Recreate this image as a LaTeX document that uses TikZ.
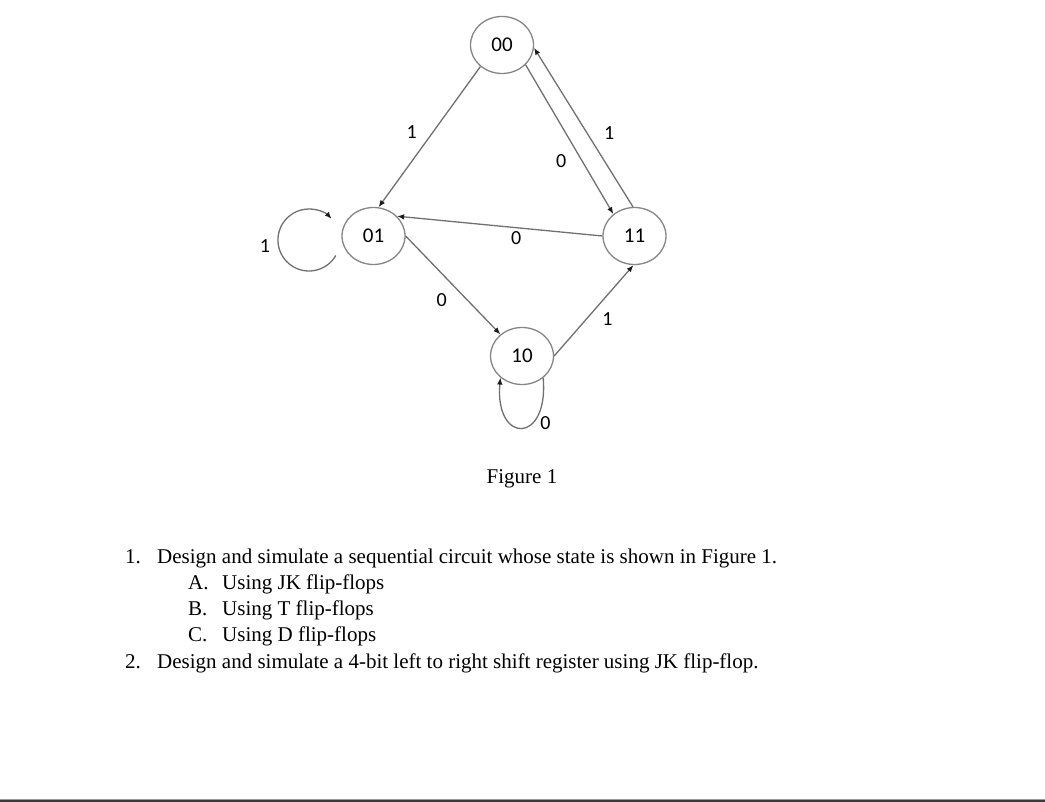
\documentclass[tikz,border=0pt]{standalone}
\usepackage{fontspec}
\setmainfont{Liberation Serif}
\newfontfamily\statefont{Carlito}
\usepackage{xcolor}
\definecolor{cLine}{HTML}{707070}
\definecolor{cEdge}{HTML}{868686}
\definecolor{cTip}{HTML}{1A1A1A}
\definecolor{cRule}{HTML}{3A3A3A}
\definecolor{cRuleLight}{HTML}{9A9A9A}
\usetikzlibrary{positioning,arrows.meta,shapes.geometric}
\tikzset{
  node-state/.style={draw=cEdge,line width=1.3pt,ellipse,inner sep=0pt,
    minimum width=63pt,minimum height=57pt,
    font=\statefont\fontsize{21}{21}\selectfont},
  node-label/.style={inner sep=2pt,font=\statefont\fontsize{20}{20}\selectfont},
  arrow/.style={-{Latex[length=7pt,width=5.5pt,color=cTip]},line width=1.3pt,draw=cLine},
  text-line/.style={anchor=base west,inner sep=0pt,font=\fontsize{21}{26}\selectfont},
}

\begin{document}
\begin{tikzpicture}[x=1pt,y=1pt]
  \useasboundingbox (0,0) rectangle (1045,-802);
  % states
  \node[node-state] (s00) at (502,-45) {00};
  \node[node-state] (s01) at (373.5,-236) {01};
  \node[node-state] (s11) at (634.5,-236) {11};
  \node[node-state] (s10) at (522,-356) {10};
  % transitions
  \draw[arrow] (s00.225) -- node[node-label,pos=.54,above left=1.2pt and 6pt] (e1) {1} (s01.80);
  \draw[arrow] (s00.320) -- node[node-label,pos=.58,below left=0.4pt and 7.5pt] (e2) {0} (s11.134);
  \draw[arrow] (s11.93) -- node[node-label,pos=.4,above right=1.2pt and 8pt] (e3) {1} (s00.355);
  \draw[arrow] (s11.west) -- node[node-label,pos=.42,below=0.7pt] (e4) {0} (s01.40);
  \draw[arrow] (s01.east) -- node[node-label,pos=.52,below left=4pt and 5.5pt] (e5) {0} (s10.135);
  \draw[arrow] (s10.east) -- node[node-label,pos=.52,below right=1.5pt and 4.3pt] (e6) {1} (s11.268);
  % self loops
  \coordinate (l01) at ([shift={(-37.7,-19.5)}]s01.center);
  \draw[arrow] (l01) arc[start angle=-30,end angle=-317,radius=31];
  \node[node-label] (e7) at (265,-246) {1};
  \draw[arrow] (s10.-46) to[out=-85,in=-95,looseness=4]
    node[node-label,pos=.35,right=5.5pt] (e8) {0} (s10.-135);
  % caption
  \node[anchor=base,inner sep=0pt,font=\fontsize{21}{24}\selectfont] (cap) at (522,-483) {Figure 1};
  % questions
  \node[text-line] (q1n) at (125,-563) {1.};
  \node[text-line] (q1) at (157,-563) {Design and simulate a sequential circuit whose state is shown in Figure 1.};
  \foreach \lt/\ff [count=\i] in {A/JK,B/T,C/D} {
    \node[text-line] (sub\i n) at (188,-563-26*\i) {\lt.};
    \node[text-line] (sub\i) at (222,-563-26*\i) {Using \ff\ flip-flops};
  }
  \node[text-line] (q2n) at (125,-668) {2.};
  \node[text-line] (q2) at (157,-668) {Design and simulate a 4-bit left to right shift register using JK flip-flop.};
  % page edge
  \fill[cRuleLight] (0,-798.5) rectangle (1045,-800);
  \fill[cRule] (0,-800) rectangle (1045,-802);
\end{tikzpicture}
\end{document}
